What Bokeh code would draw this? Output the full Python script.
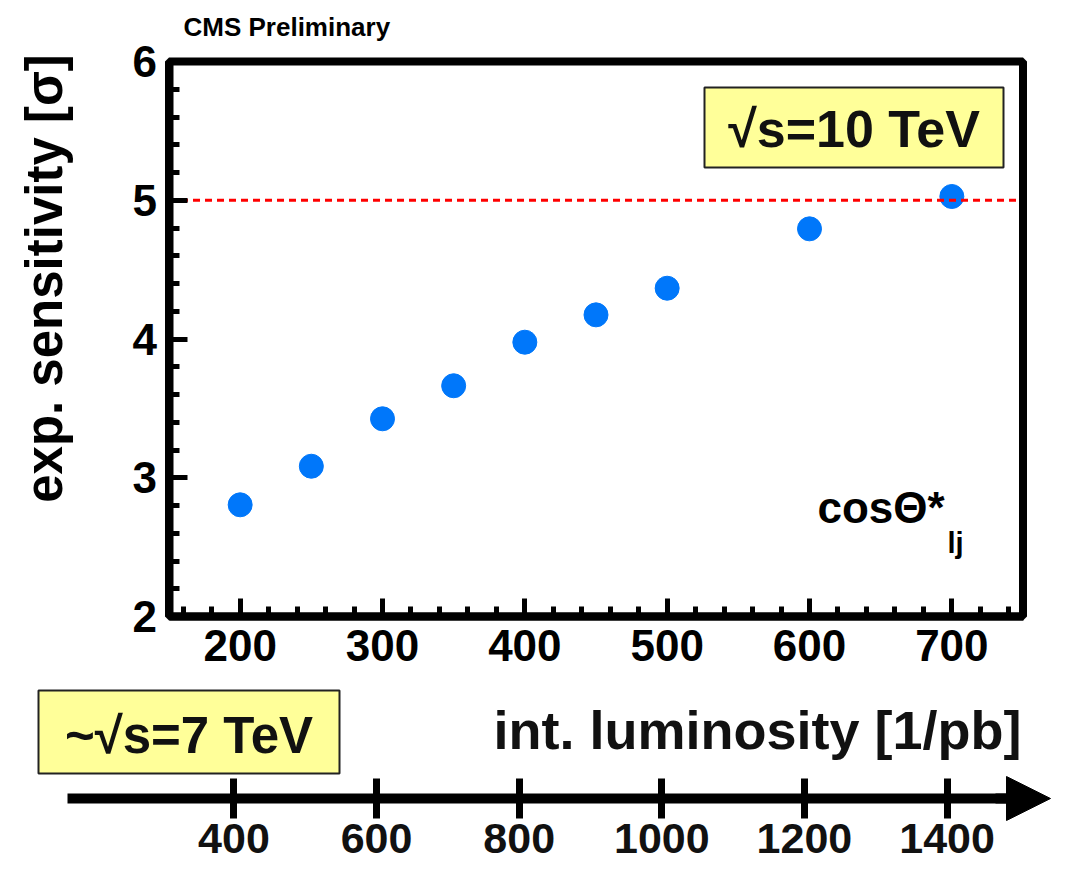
import math
from bokeh.plotting import figure
from bokeh.models import (Range1d, FixedTicker, Label, BoxAnnotation,
                          LinearAxis, Arrow, NormalHead)
from bokeh.embed import file_html
from bokeh.resources import INLINE

# ---------------- data ----------------
lumi_10tev = [200, 250, 300, 350, 400, 450, 500, 600, 700]
sensitivity = [2.805, 3.083, 3.425, 3.663, 3.977, 4.174, 4.366, 4.794, 5.027]
x_major_ticks = [200, 300, 400, 500, 600, 700]
y_major_ticks = [2, 3, 4, 5, 6]
lumi_7tev_ticks = [400, 600, 800, 1000, 1200, 1400]
discovery_level = 5
x_lo, x_hi = 150, 750
y_lo, y_hi = 2, 6

# ---------------- layout / style ----------------
FONT = "Liberation Sans"
W, H = 1054, 874
POINT_COLOR = "#0077fa"
BOX_FILL = "#ffff99"

# pixel box of the main plot inside the canvas
FX0, FX1, FY0, FY1 = 168.5, 1022.5, 61.0, 616.0
SX = (FX1 - FX0) / (x_hi - x_lo)
SY = (FY1 - FY0) / (y_hi - y_lo)


def dx(px):
    return x_lo + (px - FX0) / SX


def dy(py):
    return y_hi - (py - FY0) / SY


# 7 TeV luminosity scale (pixel = 590 + 0.7131*(lumi-900))
def l7(px):
    return 900 + (px - 590) / 0.7131


p = figure(width=W, height=H, x_range=Range1d(dx(0), dx(W)), y_range=Range1d(dy(H), dy(0)),
           x_axis_type=None, y_axis_type=None,
           output_backend="svg", toolbar_location=None,
           min_border_left=0, min_border_right=0, min_border_top=0, min_border_bottom=0,
           background_fill_color="white", border_fill_color="white")
p.outline_line_color = None
p.extra_x_ranges = {"lumi7": Range1d(l7(0), l7(W))}

x_minor = [160 + 20 * i for i in range(30) if (160 + 20 * i) % 100 != 0]
y_minor = [round(2 + 0.2 * i, 1) for i in range(1, 20) if i % 5 != 0]

xa = LinearAxis(fixed_location=y_lo, bounds=(x_lo, x_hi),
                ticker=FixedTicker(ticks=x_major_ticks, minor_ticks=x_minor))
ya = LinearAxis(fixed_location=x_lo, bounds=(y_lo, y_hi),
                ticker=FixedTicker(ticks=y_major_ticks, minor_ticks=y_minor))
for ax in (xa, ya):
    ax.axis_line_width = 8
    ax.axis_line_color = "black"
    ax.major_tick_in = 18
    ax.major_tick_out = 0
    ax.minor_tick_in = 10
    ax.minor_tick_out = 0
    ax.major_tick_line_width = 5
    ax.minor_tick_line_width = 5
    ax.major_tick_line_color = "black"
    ax.minor_tick_line_color = "black"
    ax.major_label_text_font = FONT
    ax.major_label_text_font_size = "44px"
    ax.major_label_text_font_style = "bold"
    ax.major_label_text_color = "black"
xa.major_label_standoff = 13
ya.major_label_standoff = 12
p.add_layout(xa, "below")
p.add_layout(ya, "left")

# frame of the main plot
p.add_layout(BoxAnnotation(left=x_lo, right=x_hi, bottom=y_lo, top=y_hi,
                           fill_color=None, fill_alpha=0, line_color="black",
                           line_width=8, line_alpha=1.0))

p.scatter(lumi_10tev, sensitivity, size=24, marker="circle",
          fill_color=POINT_COLOR, line_color=POINT_COLOR)

p.segment(x0=[x_lo], y0=[discovery_level], x1=[x_hi], y1=[discovery_level],
          line_color="red", line_width=3, line_dash="7 5")

# sqrt(s)=10 TeV box
p.add_layout(BoxAnnotation(left=dx(704), right=dx(1003), bottom=dy(167), top=dy(87),
                           fill_color=BOX_FILL, fill_alpha=1.0,
                           line_color="#222222", line_width=2, line_alpha=1.0))
p.add_layout(Label(x=dx(853.5), y=dy(128), text="√s=10 TeV", text_align="center",
                   text_baseline="middle", text_font=FONT, text_font_size="52px",
                   text_font_style="bold", text_color="#111111"))

p.add_layout(Label(x=dx(817), y=dy(507), text="cosΘ*", text_align="left",
                   text_baseline="middle", text_font=FONT, text_font_size="44px",
                   text_font_style="bold", text_color="black"))
p.add_layout(Label(x=dx(947), y=dy(542), text="lj", text_align="left",
                   text_baseline="middle", text_font=FONT, text_font_size="29px",
                   text_font_style="bold", text_color="black"))

p.add_layout(Label(x=dx(183), y=dy(26), text="CMS Preliminary", text_align="left",
                   text_baseline="middle", text_font=FONT, text_font_size="26px",
                   text_font_style="bold", text_color="black"))

p.add_layout(Label(x=dx(44), y=dy(278), text="exp. sensitivity [σ]", angle=math.pi / 2,
                   text_align="center", text_baseline="middle", text_font=FONT,
                   text_font_size="51px", text_font_style="bold", text_color="black"))

# ---------------- 7 TeV luminosity axis ----------------
AXIS_PY = 798
bax = LinearAxis(x_range_name="lumi7", fixed_location=dy(AXIS_PY), bounds=(l7(67), l7(1015)),
                 ticker=FixedTicker(ticks=lumi_7tev_ticks, minor_ticks=[]))
bax.axis_line_width = 10
bax.axis_line_color = "black"
bax.major_tick_in = 20
bax.major_tick_out = 20
bax.major_tick_line_width = 7
bax.major_tick_line_color = "black"
bax.minor_tick_in = 0
bax.minor_tick_out = 0
bax.major_label_standoff = 5
bax.major_label_text_font = FONT
bax.major_label_text_font_size = "43px"
bax.major_label_text_font_style = "bold"
bax.major_label_text_color = "#111111"
p.add_layout(bax, "below")

p.add_layout(Arrow(end=NormalHead(size=44, fill_color="black", line_color="black", line_width=1),
                   x_start=dx(995), y_start=dy(AXIS_PY), x_end=dx(1050), y_end=dy(AXIS_PY),
                   line_width=10, line_color="black"))

p.add_layout(BoxAnnotation(left=dx(38), right=dx(339), bottom=dy(773), top=dy(690),
                           fill_color=BOX_FILL, fill_alpha=1.0,
                           line_color="#222222", line_width=2, line_alpha=1.0))
p.add_layout(Label(x=dx(188.5), y=dy(735), text="~√s=7 TeV", text_align="center",
                   text_baseline="middle", text_font=FONT, text_font_size="51px",
                   text_font_style="bold", text_color="#111111"))
p.add_layout(Label(x=dx(1021), y=dy(729), text="int. luminosity [1/pb]", text_align="right",
                   text_baseline="middle", text_font=FONT, text_font_size="54px",
                   text_font_style="bold", text_color="#111111"))

open("out.html", "w").write(file_html(p, INLINE))
